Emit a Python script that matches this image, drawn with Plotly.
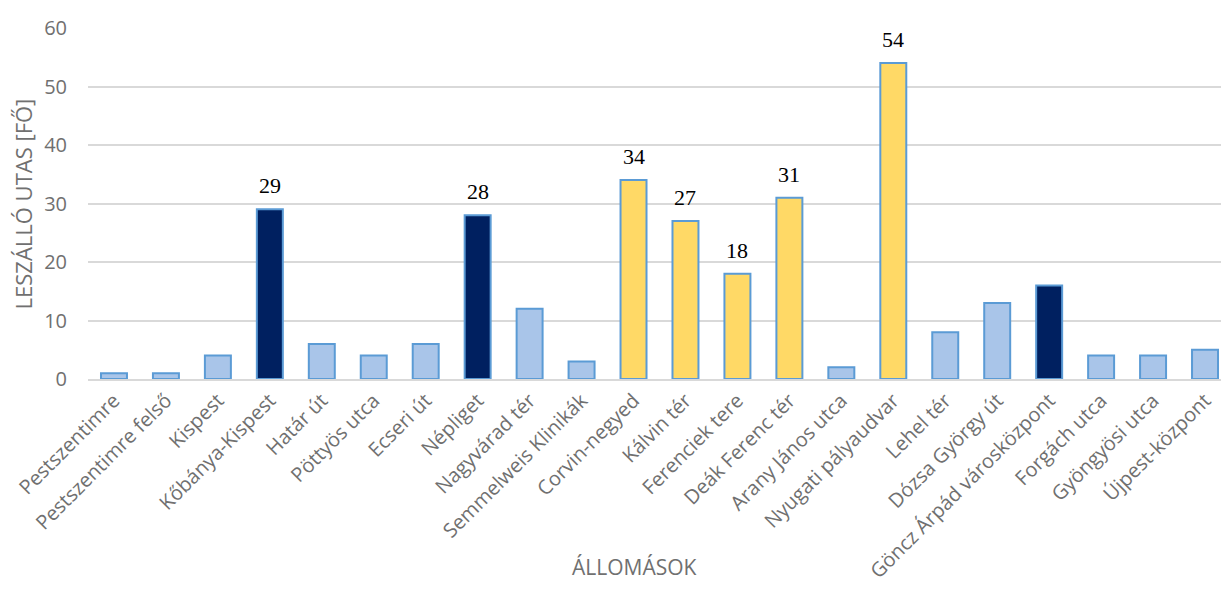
import plotly.graph_objects as go

stations = ["Pestszentimre", "Pestszentimre felső", "Kispest", "Kőbánya-Kispest", "Határ út",
            "Pöttyös utca", "Ecseri út", "Népliget", "Nagyvárad tér", "Semmelweis Klinikák",
            "Corvin-negyed", "Kálvin tér", "Ferenciek tere", "Deák Ferenc tér", "Arany János utca",
            "Nyugati pályaudvar", "Lehel tér", "Dózsa György út", "Göncz Árpád városközpont",
            "Forgách utca", "Gyöngyösi utca", "Újpest-központ"]
passengers = [1, 1, 4, 29, 6, 4, 6, 28, 12, 3, 34, 27, 18, 31, 2, 54, 8, 13, 16, 4, 4, 5]
# group: n = normal, t = transfer hub (dark), c = centre (yellow)
groups = ["n", "n", "n", "t", "n", "n", "n", "t", "n", "n", "c", "c", "c", "c", "n", "c",
          "n", "n", "t", "n", "n", "n"]
labelled = [False, False, False, True, False, False, False, True, False, False, True, True,
            True, True, False, True, False, False, False, False, False, False]

color_map = {"n": "#a9c5e9", "t": "#002060", "c": "#ffd966"}
colors = [color_map[g] for g in groups]

fig = go.Figure(go.Bar(
    x=stations, y=passengers,
    marker=dict(color=colors, line=dict(color="#5b9bd5", width=2)),
))

for s, v, l in zip(stations, passengers, labelled):
    if l:
        fig.add_annotation(x=s, y=v, text=str(v), showarrow=False, yanchor="bottom",
                           yshift=9, font=dict(family="Liberation Serif", size=22, color="#000000"))

grey = "#707070"
fig.update_layout(
    width=1229, height=591,
    margin=dict(l=80, r=6, t=15, b=220),
    plot_bgcolor="white", paper_bgcolor="white",
    bargap=0.5, showlegend=False,
    font=dict(family="Open Sans", color=grey),
)
fig.update_yaxes(range=[0, 60], dtick=10, showgrid=True, gridcolor="#d9d9d9", gridwidth=1.5,
                 zeroline=False, tickfont=dict(size=20, color=grey),
                 ticks="", ticklabelstandoff=20)
fig.update_xaxes(tickangle=-45, tickfont=dict(size=20, color=grey), automargin=False,
                 showline=True, linecolor="#d9d9d9", linewidth=2, ticks="")
fig.add_annotation(text="LESZÁLLÓ UTAS [FŐ]", xref="paper", yref="paper", x=-0.0569, y=0.5,
                   textangle=-90, xanchor="center", yanchor="middle", showarrow=False,
                   font=dict(size=22, color=grey))
fig.add_annotation(text="ÁLLOMÁSOK", xref="paper", yref="paper", x=0.4777, y=-0.5365,
                   xanchor="center", yanchor="middle", showarrow=False,
                   font=dict(size=21, color=grey))

fig.write_html("out.html")
